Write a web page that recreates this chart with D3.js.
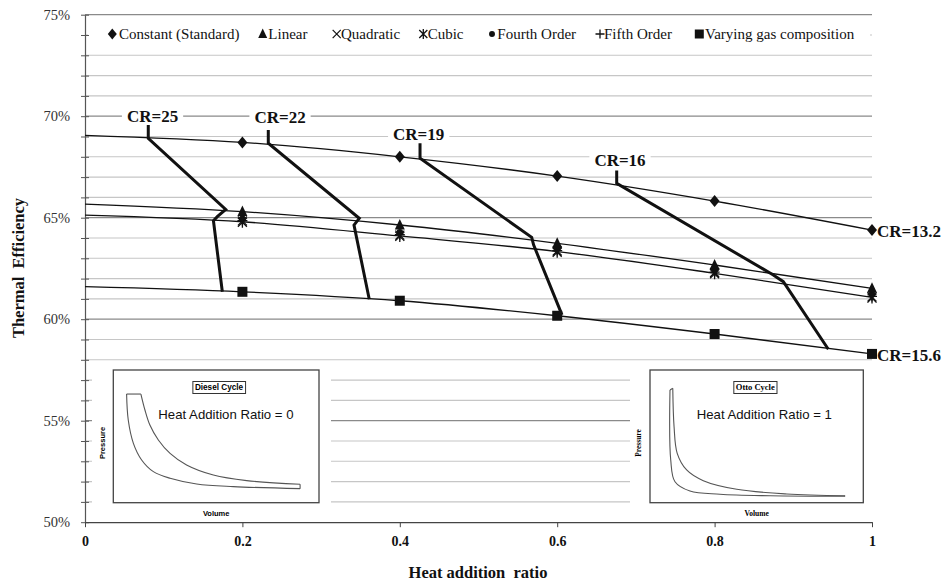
<!DOCTYPE html>
<html><head><meta charset="utf-8">
<script src="https://cdn.jsdelivr.net/npm/d3@7"></script>
<style>body{margin:0;background:#fff}svg{display:block}</style>
</head><body>
<svg id="chart" width="942" height="584"></svg>
<script>
// ---------- DATA ----------
const heatRatio   = [0, 0.2, 0.4, 0.6, 0.8, 1.0];
const constantStd = [69.06, 68.71, 68.00, 67.05, 65.82, 64.39];
const linear      = [65.67, 65.30, 64.64, 63.74, 62.67, 61.52];
const quadratic   = [65.13, 64.84, 64.14, 63.36, 62.30, 61.10];
const cubic       = [65.13, 64.78, 64.08, 63.30, 62.24, 61.04];
const fourthOrder = [65.13, 64.95, 64.28, 63.48, 62.42, 61.22];
const fifthOrder  = [65.13, 64.86, 64.16, 63.38, 62.32, 61.12];
const higherOrderFit = [65.13, 64.80, 64.10, 63.33, 62.26, 61.07];
const varyingGas  = [61.60, 61.35, 60.91, 60.17, 59.27, 58.29];

const seriesNames = ["Constant (Standard)","Linear","Quadratic","Cubic","Fourth Order","Fifth Order","Varying gas composition"];
const seriesMarkers = ["diamond","triangle","times","star","circle","plus","square"];
const seriesValues = [constantStd, linear, quadratic, cubic, fourthOrder, fifthOrder, varyingGas];

const yTicks = [50,51,52,53,54,55,56,57,58,59,60,61,62,63,64,65,66,67,68,69,70,71,72,73,74,75];
const xTicks = [0, 0.2, 0.4, 0.6, 0.8, 1];

// compression-ratio iso-lines: [heat ratio, efficiency %]
const crLabels = ["CR=25","CR=22","CR=19","CR=16"];
const crLabelX = [0.0858, 0.2478, 0.424, 0.6798];
const crLabelY = [69.73, 69.65, 68.83, 67.56];
const crPaths = [
  [[0.0804,69.57],[0.0804,68.91],[0.1788,65.41],[0.1681,65.05],[0.1632,64.85],[0.1745,61.35]],
  [[0.2329,69.32],[0.2329,68.67],[0.3485,64.97],[0.3418,64.64],[0.3612,60.98]],
  [[0.4257,68.67],[0.4257,67.93],[0.5676,64.03],[0.5700,63.66],[0.6061,60.21]],
  [[0.6756,67.32],[0.6756,66.69],[0.8746,62.18],[0.8873,61.85],[0.9445,58.52]]
];
const endLabels = ["CR=13.2","CR=15.6"];
const endLabelY = [64.39, 58.29];

// inset P-V sketches: [normalised volume, normalised pressure]
const dieselExpansion = [[.096,.977],[.118,.820],[.145,.672],[.191,.525],[.255,.393],[.345,.279],[.491,.180],[.673,.125],[.964,.089]];
const dieselCompression = [[.018,.977],[.027,.721],[.055,.492],[.10,.328],[.164,.213],[.255,.148],[.40,.092],[.60,.066],[.964,.046]];
const ottoExpansion = [[.042,.971],[.049,.637],[.066,.406],[.117,.261],[.207,.168],[.388,.093],[.658,.052],[.973,.037]];
const ottoCompression = [[.027,.957],[.031,.348],[.054,.159],[.135,.078],[.297,.050],[.568,.037],[.973,.032]];

// ---------- CHART ----------
const svg = d3.select("#chart");
const serif = "'Liberation Serif','Times New Roman',serif";
const sans = "'Liberation Sans',Arial,sans-serif";
svg.append("rect").attr("width",942).attr("height",584).attr("fill","#fff");

const x = d3.scaleLinear().domain([0,1]).range([85,872]);
const y = d3.scaleLinear().domain([50,75]).range([522.2,14.7]);

// gridlines
svg.append("g").selectAll("line").data(yTicks.filter(d=>d>50)).join("line")
  .attr("x1",x(0)).attr("x2",x(1)).attr("y1",d=>y(d)).attr("y2",d=>y(d))
  .attr("stroke",d=>d%5===0?"#8a8a8a":"#c6c6c6").attr("stroke-width",d=>d%5===0?1.3:1.1);

// legend background
svg.append("rect").attr("x",88).attr("y",19).attr("width",782).attr("height",31).attr("fill","#fff");

// insets
function inset(o){
  const g = svg.append("g");
  g.append("rect").attr("x",o.bx0).attr("y",364).attr("width",o.bx1-o.bx0).attr("height",155).attr("fill","#fff");
  g.append("rect").attr("x",o.x0).attr("y",370).attr("width",o.x1-o.x0).attr("height",132.7)
    .attr("fill","#fff").attr("stroke","#444").attr("stroke-width",1.3);
  const vx = d3.scaleLinear().domain([0,1]).range(o.vr);
  const py = d3.scaleLinear().domain([0,1]).range(o.pr);
  const smooth = d3.line().x(d=>vx(d[0])).y(d=>py(d[1])).curve(d3.curveCatmullRom.alpha(0.5));
  const straight = d3.line().x(d=>vx(d[0])).y(d=>py(d[1]));
  [smooth(o.exp), smooth(o.comp),
   straight([o.comp[0],o.exp[0]]),
   straight([o.exp[o.exp.length-1],o.comp[o.comp.length-1]])].forEach(p=>{
     g.append("path").attr("d",p).attr("fill","none").attr("stroke","#555").attr("stroke-width",1.1);
  });
  const tt = g.append("text").attr("x",o.tx).attr("y",390.3).attr("text-anchor","middle")
    .attr("font-family",o.tfont).attr("font-weight","bold").attr("font-size",o.tsize).text(o.title);
  const bb = tt.node().getBBox();
  g.insert("rect","text").attr("x",bb.x-2).attr("y",381.5).attr("width",bb.width+4).attr("height",12)
    .attr("fill","#fff").attr("stroke","#333").attr("stroke-width",1);
  g.append("text").attr("x",o.hx).attr("y",418.5).attr("font-family",sans).attr("font-size",13.2)
    .attr("fill","#111").text(o.heat);
  g.append("text").attr("transform",`translate(${o.px},443) rotate(-90)`).attr("text-anchor","middle")
    .attr("font-family",o.tfont).attr("font-weight","bold").attr("font-size",7.5).text("Pressure");
  g.append("text").attr("x",(o.x0+o.x1)/2).attr("y",515.5).attr("text-anchor","middle")
    .attr("font-family",o.tfont).attr("font-weight","bold").attr("font-size",7.5).text("Volume");
}
inset({bx0:92,bx1:331,x0:113.3,x1:319,vr:[123.3,306.7],pr:[493.3,391.7],exp:dieselExpansion,comp:dieselCompression,
  title:"Diesel Cycle",tx:219,tfont:sans,tsize:8.2,heat:"Heat Addition Ratio = 0",hx:158.3,px:105});
inset({bx0:630,bx1:873,x0:650,x1:863.3,vr:[665,850],pr:[500,385],exp:ottoExpansion,comp:ottoCompression,
  title:"Otto Cycle",tx:755.3,tfont:serif,tsize:8.5,heat:"Heat Addition Ratio = 1",hx:696.7,px:641});

// axes
const yAxis = svg.append("g").attr("transform",`translate(${x(0)},0)`)
  .call(d3.axisLeft(y).tickValues(yTicks).tickSizeInner(4).tickSizeOuter(0).tickPadding(11)
    .tickFormat(d=>d%5===0?d+"%":""));
yAxis.select(".domain").attr("stroke","#555").attr("stroke-width",1.2);
yAxis.selectAll(".tick line").attr("x2",-4).attr("x1",4).attr("stroke","#555");
yAxis.selectAll(".tick text").attr("font-family",serif).attr("font-size",14.5).attr("fill","#333");

const xAxis = svg.append("g").attr("transform",`translate(0,${y(50)})`)
  .call(d3.axisBottom(x).tickValues(xTicks).tickSizeInner(5).tickSizeOuter(0).tickPadding(9)
    .tickFormat(d=>(d===0||d===1)?String(d):d.toFixed(1)));
xAxis.select(".domain").attr("stroke","#444").attr("stroke-width",1.3);
xAxis.selectAll(".tick line").attr("stroke","#444");
xAxis.selectAll(".tick text").attr("font-family",serif).attr("font-weight","bold").attr("font-size",14).attr("fill","#111");

// axis titles
svg.append("text").attr("x",478).attr("y",578).attr("text-anchor","middle").attr("font-family",serif)
  .attr("font-weight","bold").attr("font-size",16.5).attr("fill","#111").style("white-space","pre").text("Heat addition  ratio");
svg.append("text").attr("transform","translate(24,268) rotate(-90)").attr("text-anchor","middle").attr("font-family",serif)
  .attr("font-weight","bold").attr("font-size",16.5).attr("fill","#111").style("white-space","pre").text("Thermal  Efficiency");

// series lines
const line = d3.line().x((d,i)=>x(heatRatio[i])).y(d=>y(d)).curve(d3.curveMonotoneX);
[constantStd, linear, higherOrderFit, varyingGas].forEach(v=>{
  svg.append("path").attr("d",line(v)).attr("fill","none").attr("stroke","#111").attr("stroke-width",1.3);
});

// CR lines
const crLine = d3.line().x(d=>x(d[0])).y(d=>y(d[1]));
crPaths.forEach(p=>{
  svg.append("path").attr("d",crLine(p)).attr("fill","none").attr("stroke","#111")
    .attr("stroke-width",3).attr("stroke-linejoin","miter");
});

// markers
function marker(g, type, cx, cy, s){
  const k = s||1;
  if(type==="diamond"){
    g.append("path").attr("d",`M${cx},${cy-6*k}L${cx+5*k},${cy}L${cx},${cy+6*k}L${cx-5*k},${cy}Z`).attr("fill","#111");
  } else if(type==="triangle"){
    g.append("path").attr("d",`M${cx},${cy-6*k}L${cx+5*k},${cy+4.5*k}L${cx-5*k},${cy+4.5*k}Z`).attr("fill","#111");
  } else if(type==="square"){
    g.append("rect").attr("x",cx-5*k).attr("y",cy-5*k).attr("width",10*k).attr("height",10*k).attr("fill","#111");
  } else if(type==="circle"){
    g.append("circle").attr("cx",cx).attr("cy",cy).attr("r",3.3*k).attr("fill","#111");
  } else if(type==="times"){
    g.append("path").attr("d",`M${cx-4.5*k},${cy-4.5*k}L${cx+4.5*k},${cy+4.5*k}M${cx+4.5*k},${cy-4.5*k}L${cx-4.5*k},${cy+4.5*k}`)
      .attr("stroke","#111").attr("stroke-width",1.2);
  } else if(type==="star"){
    g.append("path").attr("d",`M${cx-4.5*k},${cy-4.5*k}L${cx+4.5*k},${cy+4.5*k}M${cx+4.5*k},${cy-4.5*k}L${cx-4.5*k},${cy+4.5*k}M${cx},${cy-5.5*k}L${cx},${cy+5.5*k}`)
      .attr("stroke","#111").attr("stroke-width",1.3);
  } else if(type==="plus"){
    g.append("path").attr("d",`M${cx-5*k},${cy}L${cx+5*k},${cy}M${cx},${cy-5*k}L${cx},${cy+5*k}`)
      .attr("stroke","#111").attr("stroke-width",1.3);
  }
}
const mg = svg.append("g");
[5,4,3,2,1,0,6].forEach(si=>{
  seriesValues[si].forEach((v,i)=>{ if(i>0) marker(mg, seriesMarkers[si], x(heatRatio[i]), y(v)); });
});

// CR labels
crLabels.forEach((t,i)=>{
  const tx = svg.append("text").attr("x",x(crLabelX[i])).attr("y",y(crLabelY[i])).attr("text-anchor","middle")
    .attr("font-family",serif).attr("font-weight","bold").attr("font-size",17).attr("fill","#111").text(t);
  const bb = tx.node().getBBox();
  svg.insert("rect",()=>tx.node()).attr("x",bb.x-5).attr("y",bb.y+1).attr("width",bb.width+10).attr("height",bb.height-2).attr("fill","#fff");
});
endLabels.forEach((t,i)=>{
  svg.append("text").attr("x",x(1)+5).attr("y",y(endLabelY[i])+1).attr("dy","0.35em")
    .attr("font-family",serif).attr("font-weight","bold").attr("font-size",17).attr("fill","#111").text(t);
});

// legend
const legMarkerX = [112.3, 262.7, 336.7, 423.3, 492, 600, 699.3];
const legTextX = [119, 268.3, 341, 427.7, 497.3, 604, 705];
const lg = svg.append("g");
seriesNames.forEach((n,i)=>{
  marker(lg, seriesMarkers[i], legMarkerX[i], 34, 0.9);
  lg.append("text").attr("x",legTextX[i]).attr("y",34).attr("dy","0.33em").attr("font-family",serif)
    .attr("font-size",15).attr("fill","#111").text(n);
});
</script>
</body></html>
